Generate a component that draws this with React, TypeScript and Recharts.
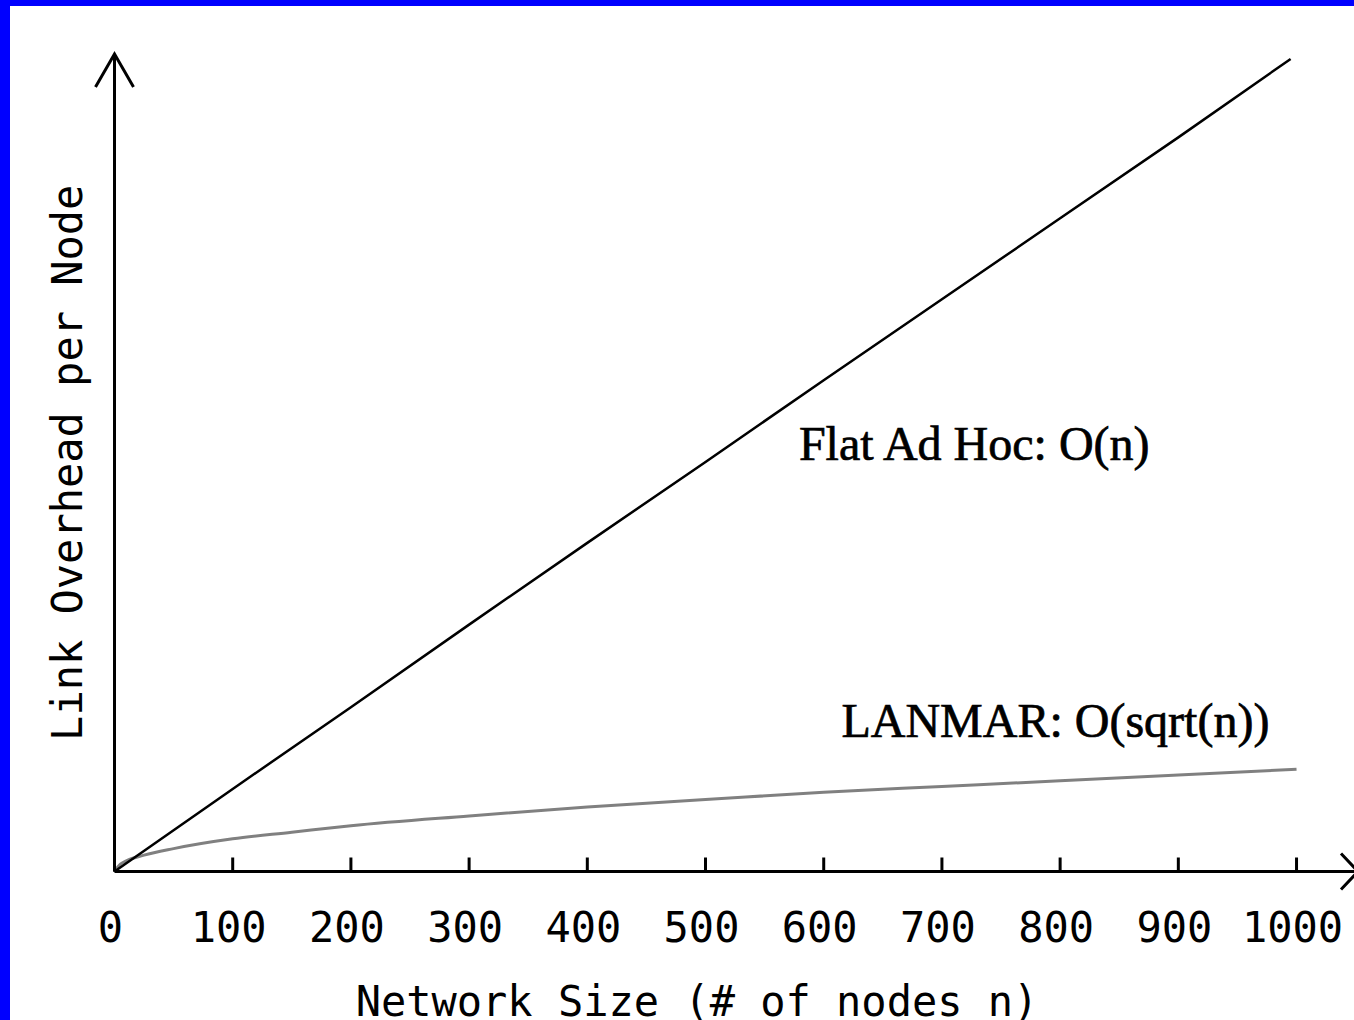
import { LineChart, Line, XAxis, YAxis, ReferenceDot } from "recharts";

// network size (# of nodes) and link overhead readings
const flatNodes = [0, 100, 200, 300, 400, 500, 600, 700, 800, 900, 995];
const flatOverhead = [0, 101, 201, 302, 402, 501, 601, 700, 799, 898, 994];

const lanmarNodes = [0, 5, 10, 25, 50, 100, 150, 200, 300, 400, 500, 600, 700, 800, 900, 1000];
const lanmarOverhead = [0, 9, 13, 20, 28, 40, 48, 56, 68, 79, 88, 97, 104, 111, 118, 125];

const xTicks = [0, 100, 200, 300, 400, 500, 600, 700, 800, 900, 1000];

const flatData = flatNodes.map((n, i) => ({ n, v: flatOverhead[i] }));
const lanmarData = lanmarNodes.map((n, i) => ({ n, v: lanmarOverhead[i] }));

const mono = "'DejaVu Sans Mono', 'Liberation Mono', monospace";
const serif = "'Liberation Serif', 'DejaVu Serif', serif";

function XTick({ x, y, payload }: any) {
  return (
    <text x={x - 4} y={y + 84} textAnchor="middle" fontFamily={mono} fontSize={42} fill="#000">
      {payload.value}
    </text>
  );
}

function XTitle({ viewBox }: any) {
  return (
    <text
      x={viewBox.x + 582.5}
      y={viewBox.y + 144.5}
      textAnchor="middle"
      fontFamily={mono}
      fontSize={42}
      fill="#000"
    >
      Network Size (# of nodes n)
    </text>
  );
}

function YTitle({ viewBox }: any) {
  const x = viewBox.x - 18;
  const y = viewBox.y + viewBox.height / 2;
  return (
    <text
      x={x}
      y={y}
      transform={`rotate(-90, ${x}, ${y})`}
      textAnchor="middle"
      fontFamily={mono}
      fontSize={42}
      fill="#000"
    >
      Link Overhead per Node
    </text>
  );
}

// annotations beside the curves, slightly heavier like the original bitmap serif
const note = (text: string) => ({ viewBox }: any) => (
  <text
    x={viewBox.x}
    y={viewBox.y}
    fontFamily={serif}
    fontSize={48}
    fill="#000"
    stroke="#000"
    strokeWidth={0.7}
  >
    {text}
  </text>
);

export default function App() {
  return (
    <div
      style={{
        position: "absolute",
        left: 0,
        top: 0,
        width: 1354,
        height: 1020,
        overflow: "hidden",
        background: "#0000ff",
      }}
    >
      <div style={{ position: "absolute", left: 10, top: 6, right: 0, bottom: 0, background: "#fff" }} />
      <div style={{ position: "absolute", left: 0, top: 0 }}>
        <LineChart width={1370} height={1040} margin={{ top: 54, right: 12, bottom: 108.5, left: 100 }}>
          <defs>
            <marker
              id="arrowUp"
              markerUnits="userSpaceOnUse"
              markerWidth={80}
              markerHeight={80}
              viewBox="-40 -40 80 80"
              refX={0}
              refY={0}
              orient="0"
              overflow="visible"
            >
              <path d="M -19 33 L 0 0 L 19 33" fill="none" stroke="#000" strokeWidth={3} />
            </marker>
            <marker
              id="arrowRight"
              markerUnits="userSpaceOnUse"
              markerWidth={80}
              markerHeight={80}
              viewBox="-40 -40 80 80"
              refX={0}
              refY={0}
              orient="0"
              overflow="visible"
            >
              <path d="M -17 -18 L 0 0 L -17 18" fill="none" stroke="#000" strokeWidth={3} />
            </marker>
          </defs>
          <XAxis
            type="number"
            dataKey="n"
            domain={[0, 1052]}
            ticks={xTicks}
            interval={0}
            height={60}
            tickSize={-14}
            tickMargin={0}
            tickLine={{ stroke: "#000", strokeWidth: 3 }}
            axisLine={{ stroke: "#000", strokeWidth: 3, markerEnd: "url(#arrowRight)" }}
            tick={<XTick />}
            label={{ content: XTitle }}
          />
          <YAxis
            type="number"
            dataKey="v"
            domain={[0, 1000]}
            width={14.5}
            tick={false}
            tickLine={false}
            axisLine={{ stroke: "#000", strokeWidth: 3, markerStart: "url(#arrowUp)" }}
            label={{ content: YTitle }}
          />
          <Line
            data={lanmarData}
            dataKey="v"
            type="monotone"
            stroke="#808080"
            strokeWidth={3}
            dot={false}
            activeDot={false}
            isAnimationActive={false}
          />
          <Line
            data={flatData}
            dataKey="v"
            type="linear"
            stroke="#000"
            strokeWidth={2.5}
            dot={false}
            activeDot={false}
            isAnimationActive={false}
          />
          <ReferenceDot x={579} y={503} r={0} stroke="none" label={{ content: note("Flat Ad Hoc: O(n)") }} />
          <ReferenceDot x={615} y={164.5} r={0} stroke="none" label={{ content: note("LANMAR: O(sqrt(n))") }} />
        </LineChart>
      </div>
    </div>
  );
}
